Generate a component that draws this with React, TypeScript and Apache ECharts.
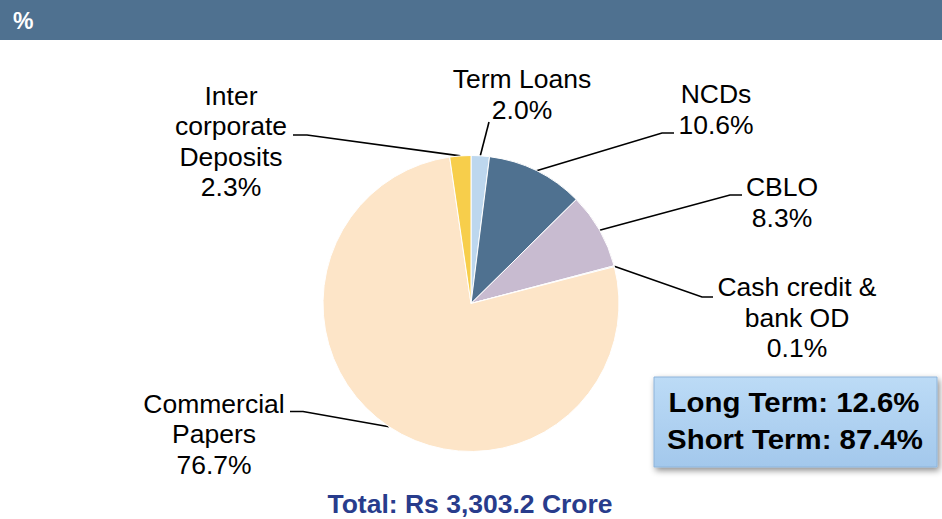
import React, { useEffect, useRef } from "react";
import * as echarts from "echarts";

const categories = [
  "Term Loans",
  "NCDs",
  "CBLO",
  "Cash credit &\nbank OD",
  "Commercial\nPapers",
  "Inter\ncorporate\nDeposits",
];
const shares = [2.0, 10.6, 8.3, 0.1, 76.7, 2.3];
const sliceColors = ["#BDD7EE", "#4F7190", "#C8BBD0", "#9DB7D5", "#FDE5C8", "#F7CE4B"];
const summaryLines = ["Long Term: 12.6%", "Short Term: 87.4%"];
const totalLabel = "Total: Rs 3,303.2 Crore";
const headerText = "%";

// label placement (layout only)
const labelCenters: number[][] = [
  [522, 94.5],
  [716, 109.5],
  [782, 202.5],
  [797, 317.5],
  [214, 434],
  [231, 141.5],
];
const lineBends: number[][][] = [
  [[489, 122], [489, 122]],
  [[662, 133], [674, 133]],
  [[730, 195], [742, 195]],
  [[702, 297], [713, 297]],
  [[303, 411.5], [290, 411.5]],
  [[307, 135], [293, 135]],
];

const FONT = "'Liberation Sans', Arial, Helvetica, sans-serif";

export default function App() {
  const ref = useRef<HTMLDivElement>(null);
  useEffect(() => {
    if (!ref.current) return;
    const chart = echarts.init(ref.current, undefined, { renderer: "svg" });
    chart.setOption({
      animation: false,
      backgroundColor: "#ffffff",
      graphic: [
        {
          type: "rect",
          left: 0,
          top: 0,
          shape: { width: 942, height: 40 },
          style: { fill: "#4F7190" },
          z: 1,
        },
        {
          type: "text",
          left: 13,
          top: 9,
          style: { text: headerText, fill: "#ffffff", font: `bold 23px ${FONT}` },
          z: 2,
        },
        {
          type: "rect",
          shape: { x: 654, y: 377, width: 283, height: 90 },
          style: {
            fill: new echarts.graphic.LinearGradient(0, 0, 0, 1, [
              { offset: 0, color: "#BCDBF6" },
              { offset: 1, color: "#A3C8EC" },
            ]),
            stroke: "#8DB4DA",
            lineWidth: 1,
            shadowBlur: 6,
            shadowColor: "rgba(0,0,0,0.45)",
            shadowOffsetX: 2,
            shadowOffsetY: 3,
          },
          z: 5,
        },
        {
          type: "text",
          x: 794,
          y: 402,
          scaleX: 1.05,
          style: {
            text: summaryLines[0],
            fill: "#000",
            font: `bold 28px ${FONT}`,
            align: "center",
            verticalAlign: "middle",
          },
          z: 6,
        },
        {
          type: "text",
          x: 795,
          y: 439,
          scaleX: 1.05,
          style: {
            text: summaryLines[1],
            fill: "#000",
            font: `bold 28px ${FONT}`,
            align: "center",
            verticalAlign: "middle",
          },
          z: 6,
        },
        {
          type: "text",
          x: 470,
          y: 504,
          scaleX: 1.06,
          style: {
            text: totalLabel,
            fill: "#283C8C",
            font: `bold 25px ${FONT}`,
            align: "center",
            verticalAlign: "middle",
          },
          z: 6,
        },
      ],
      series: [
        {
          type: "pie",
          center: [471, 303.5],
          radius: 148,
          startAngle: 90,
          clockwise: true,
          avoidLabelOverlap: false,
          itemStyle: { borderColor: "#ffffff", borderWidth: 1 },
          label: {
            show: true,
            position: "outside",
            formatter: (p: any) => `${p.name}\n${Number(p.value).toFixed(1)}%`,
            fontSize: 26.5,
            lineHeight: 30.5,
            fontFamily: FONT,
            color: "#000",
            align: "center",
          },
          labelLine: {
            show: true,
            lineStyle: { color: "#000", width: 1.6 },
          },
          labelLayout: (params: any) => {
            const i = params.dataIndex;
            const c = labelCenters[i];
            const p0 = params.labelLinePoints ? params.labelLinePoints[0] : null;
            const res: any = {
              x: c[0],
              y: c[1],
              align: "center",
              verticalAlign: "middle",
            };
            if (p0) res.labelLinePoints = [p0, lineBends[i][0], lineBends[i][1]];
            return res;
          },
          data: categories.map((name, i) => ({
            name,
            value: shares[i],
            itemStyle: { color: sliceColors[i] },
          })),
        },
      ],
    });
    return () => chart.dispose();
  }, []);
  return (
    <div
      ref={ref}
      style={{ position: "fixed", left: 0, top: 0, width: 942, height: 519 }}
    />
  );
}
